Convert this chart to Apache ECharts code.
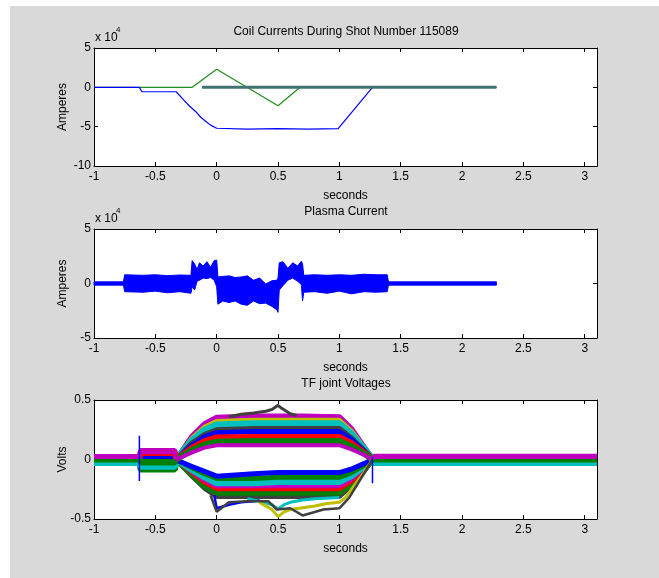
<!DOCTYPE html>
<html>
<head>
<meta charset="utf-8">
<script src="https://cdn.jsdelivr.net/npm/echarts/dist/echarts.min.js"></script>
<style>
  html, body { margin: 0; padding: 0; background: #ffffff; }
  #chart { width: 659px; height: 578px; }
</style>
</head>
<body>
<div id="chart"></div>
<script>
// ---- coil currents (x 10^4 A) ----
const coilGreenT = [-1, -0.2, 0, 0.5, 0.68, 2.28];
const coilGreenV = [0, 0, 2.3, -2.35, 0, 0];
const coilBlueT = [-1, -0.63, -0.61, -0.33, -0.27, -0.22, -0.17, -0.13, -0.09, -0.05, 0, 0.25, 0.5, 0.75, 0.99, 1.27, 2.28];
const coilBlueV = [0, 0, -0.56, -0.56, -1.6, -2.4, -3.1, -3.8, -4.3, -4.8, -5.2, -5.3, -5.25, -5.3, -5.25, 0, 0];
const coilTealT = [-0.12, 2.28];
const coilTealV = [0, 0];

// ---- plasma current envelope (x 10^4 A) ----
const plasmaT = [-1, -0.76, -0.75, -0.6, -0.5, -0.4, -0.3, -0.21, -0.2, -0.18, -0.16, -0.14, -0.11, -0.08, -0.05, -0.02, 0.0,
  0.01, 0.05, 0.1, 0.15, 0.2, 0.25, 0.3, 0.35, 0.4, 0.45, 0.49, 0.5,
  0.51, 0.54, 0.58, 0.62, 0.66, 0.69, 0.7, 0.71, 0.8, 0.9, 1.0, 1.1, 1.2, 1.3, 1.39, 1.4, 2.28];
const plasmaUpper = [0.15, 0.15, 0.8, 0.75, 0.8, 0.72, 0.78, 0.75, 2.1, 1.8, 1.3, 1.9, 1.6, 2.0, 1.5, 2.1, 2.15,
  0.6, 0.65, 0.7, 0.55, 0.6, 0.7, 0.3, 0.5, -0.05, 0.25, 0.3, 0.5,
  1.9, 2.0, 1.4, 1.9, 1.6, 2.05, 1.8, 0.75, 0.8, 0.75, 0.8, 0.75, 0.85, 0.8, 0.8, 0.15, 0.15];
const plasmaLower = [-0.15, -0.15, -0.75, -0.8, -0.7, -0.85, -0.75, -0.9, -0.3, -0.6, 0.2, 0.3, 0.5, 0.45, 0.55, 0.3, -0.3,
  -1.9, -1.6, -1.75, -1.6, -1.9, -2.0, -1.6, -1.85, -1.8, -2.1, -2.4, -2.65,
  -0.6, -0.2, 0.3, 0.5, 0.2, -0.1, -1.6, -0.8, -0.75, -0.9, -0.7, -0.95, -0.75, -0.8, -0.75, -0.15, -0.15];

// ---- TF joint voltages (V) ----
const tfT = [-1, -0.63, -0.62, -0.34, -0.33, -0.2, -0.1, 0, 0.3, 0.5, 0.7, 1.0, 1.1, 1.2, 1.27, 1.28, 3.1];
const tfMagentaHi = [0.025, 0.025, 0.075, 0.075, 0.0, 0.2, 0.3, 0.355, 0.365, 0.365, 0.365, 0.36, 0.26, 0.11, 0.01, 0.028, 0.028];
const tfYellowHi = [0.015, 0.015, 0.05, 0.05, 0.0, 0.18, 0.27, 0.32, 0.33, 0.33, 0.33, 0.33, 0.235, 0.1, 0.01, 0.015, 0.015];
const tfCyanHi = [-0.025, -0.025, 0.04, 0.04, 0.0, 0.16, 0.245, 0.29, 0.3, 0.3, 0.3, 0.3, 0.21, 0.09, 0.005, -0.025, -0.025];
const tfGrayHi = [0.0, 0.0, 0.02, 0.02, 0.0, 0.14, 0.21, 0.25, 0.26, 0.26, 0.26, 0.26, 0.18, 0.08, 0.005, 0.0, 0.0];
const tfBlueHi = [0.005, 0.005, 0.02, 0.02, 0.0, 0.12, 0.19, 0.225, 0.235, 0.235, 0.235, 0.235, 0.165, 0.07, 0.005, 0.005, 0.005];
const tfRedHi = [0.01, 0.01, 0.055, 0.055, 0.0, 0.1, 0.155, 0.185, 0.19, 0.19, 0.19, 0.19, 0.135, 0.06, 0.005, 0.01, 0.01];
const tfGreenHi = [0.0, 0.0, -0.02, -0.02, 0.0, 0.08, 0.125, 0.15, 0.155, 0.155, 0.155, 0.155, 0.11, 0.05, 0.0, 0.0, 0.0];
const tfMagentaMid = [0.02, 0.02, 0.06, 0.06, 0.0, 0.06, 0.1, 0.12, 0.12, 0.12, 0.12, 0.12, 0.085, 0.04, 0.0, 0.02, 0.02];
const tfBlueLo = [0.005, 0.005, 0.0, 0.0, 0.0, -0.06, -0.1, -0.14, -0.12, -0.11, -0.11, -0.11, -0.08, -0.035, 0.0, 0.005, 0.005];
const tfGreenLo = [-0.01, -0.01, -0.03, -0.03, 0.0, -0.07, -0.12, -0.16, -0.16, -0.15, -0.15, -0.15, -0.11, -0.05, 0.0, -0.01, -0.01];
const tfCyanLo = [-0.025, -0.025, -0.06, -0.06, 0.0, -0.09, -0.15, -0.2, -0.2, -0.19, -0.19, -0.19, -0.14, -0.06, 0.0, -0.025, -0.025];
const tfMagentaLo = [0.02, 0.02, -0.04, -0.04, 0.0, -0.1, -0.17, -0.22, -0.22, -0.22, -0.22, -0.22, -0.16, -0.07, 0.0, 0.02, 0.02];
const tfRedLo = [0.01, 0.01, -0.02, -0.02, 0.0, -0.11, -0.19, -0.245, -0.245, -0.245, -0.245, -0.245, -0.18, -0.08, 0.0, 0.01, 0.01];
const tfGreenLo2 = [-0.01, -0.01, -0.085, -0.085, 0.0, -0.13, -0.22, -0.28, -0.28, -0.28, -0.28, -0.28, -0.2, -0.09, 0.0, -0.01, -0.01];
const tfGrayLo = [0.0, 0.0, -0.03, -0.03, 0.0, -0.14, -0.24, -0.31, -0.31, -0.31, -0.31, -0.31, -0.22, -0.1, 0.0, 0.0, 0.0];

// odd channels
const grayPeakT = [0.1, 0.2, 0.3, 0.4, 0.45, 0.5, 0.53, 0.6, 0.65];
const grayPeakV = [0.36, 0.38, 0.39, 0.405, 0.42, 0.455, 0.43, 0.385, 0.37];
const cyanDipT = [0.25, 0.35, 0.45, 0.5, 0.55, 0.6, 0.7, 0.8, 1.0];
const cyanDipV = [-0.33, -0.35, -0.38, -0.415, -0.38, -0.36, -0.34, -0.33, -0.32];
const yellowDipT = [0.35, 0.45, 0.5, 0.55, 0.6, 0.7, 0.8, 0.9, 1.0, 1.05, 1.1, 1.2, 1.27];
const yellowDipV = [-0.36, -0.42, -0.48, -0.44, -0.42, -0.405, -0.39, -0.37, -0.36, -0.32, -0.25, -0.11, 0];
const grayDipT = [-0.05, 0, 0.1, 0.25, 0.42, 0.49, 0.6, 0.7, 0.87, 1.0, 1.08, 1.2, 1.27];
const grayDipV = [-0.3, -0.44, -0.36, -0.35, -0.35, -0.42, -0.41, -0.47, -0.42, -0.41, -0.32, -0.12, 0];
const blueDipT = [-0.02, 0.0, 0.1, 0.2, 0.3, 0.35];
const blueDipV = [-0.3, -0.41, -0.38, -0.36, -0.35, -0.34];
const spikeAT = [-0.63, -0.63];
const spikeAV = [0.2, -0.18];
const spikeBT = [1.27, 1.27];
const spikeBV = [0.02, -0.2];

const FONT = 'Liberation Sans';
const pair = (t, v) => t.map((x, i) => [x, v[i]]);

const chart = echarts.init(document.getElementById('chart'));

const grids = [
  { left: 94, top: 48, width: 503, height: 118 },
  { left: 94, top: 229, width: 503, height: 109 },
  { left: 94, top: 400, width: 503, height: 119 }
];
const yRanges = [
  { min: -10, max: 5, interval: 5, name: 'Amperes' },
  { min: -5, max: 5, interval: 5, name: 'Amperes' },
  { min: -0.5, max: 0.5, interval: 0.5, name: 'Volts' }
];

const axisLine = { show: true, onZero: false, lineStyle: { color: '#000', width: 1 } };
const axisTick = { show: true, inside: true, length: 4, lineStyle: { color: '#000' } };
const labelStyle = { color: '#000', fontSize: 12, fontFamily: FONT };

const xAxes = [];
const yAxes = [];
grids.forEach((g, i) => {
  xAxes.push({
    type: 'value', gridIndex: i, position: 'bottom', min: -1, max: 3.1, interval: 0.5,
    axisLine, axisTick, splitLine: { show: false },
    axisLabel: Object.assign({ margin: 5, showMaxLabel: false }, labelStyle),
    name: 'seconds', nameLocation: 'middle', nameGap: 24,
    nameTextStyle: labelStyle
  });
  xAxes.push({
    type: 'value', gridIndex: i, position: 'top', min: -1, max: 3.1, interval: 0.5,
    axisLine, axisTick, splitLine: { show: false }, axisLabel: { show: false }
  });
  const r = yRanges[i];
  yAxes.push({
    type: 'value', gridIndex: i, position: 'left', min: r.min, max: r.max, interval: r.interval,
    axisLine, axisTick, splitLine: { show: false },
    axisLabel: Object.assign({ margin: 3 }, labelStyle),
    name: r.name, nameLocation: 'middle', nameGap: 25, nameMoveOverlap: false,
    nameTextStyle: labelStyle
  });
  yAxes.push({
    type: 'value', gridIndex: i, position: 'right', min: r.min, max: r.max, interval: r.interval,
    axisLine, axisTick, splitLine: { show: false }, axisLabel: { show: false }
  });
});

function lineSeries(grid, data, color, width) {
  return {
    type: 'line', xAxisIndex: grid * 2, yAxisIndex: grid * 2, data,
    showSymbol: false, symbol: 'none', smooth: false, silent: true,
    lineStyle: { color, width }
  };
}

const MAG = '#bf00bf', YEL = '#bfbf00', CYA = '#00bfbf', GRY = '#404040',
      BLU = '#0000ff', RED = '#ff0000', GRN = '#008000';

const series = [
  lineSeries(0, pair(coilGreenT, coilGreenV), '#1e8c1e', 1.2),
  lineSeries(0, pair(coilBlueT, coilBlueV), BLU, 1.2),
  lineSeries(0, pair(coilTealT, coilTealV), '#3f7370', 3),
  {
    type: 'custom', xAxisIndex: 2, yAxisIndex: 2, silent: true,
    data: plasmaT.map((t, i) => [t, plasmaUpper[i], plasmaLower[i]]),
    encode: { x: 0, y: [1, 2] },
    renderItem: function (params, api) {
      if (params.dataIndex !== 0) return;
      const pts = [];
      plasmaT.forEach((t, i) => pts.push(api.coord([t, plasmaUpper[i]])));
      for (let i = plasmaT.length - 1; i >= 0; i--) pts.push(api.coord([plasmaT[i], plasmaLower[i]]));
      return { type: 'polygon', shape: { points: pts }, style: { fill: BLU, stroke: BLU, lineWidth: 1 } };
    }
  },
  // TF joints: back to front
  lineSeries(2, pair(tfT, tfGrayLo), GRY, 5),
  lineSeries(2, pair(tfT, tfGreenLo2), GRN, 6),
  lineSeries(2, pair(tfT, tfRedLo), RED, 5),
  lineSeries(2, pair(tfT, tfMagentaLo), MAG, 5),
  lineSeries(2, pair(tfT, tfCyanLo), CYA, 6),
  lineSeries(2, pair(tfT, tfGreenLo), GRN, 5),
  lineSeries(2, pair(tfT, tfBlueLo), BLU, 5),
  lineSeries(2, pair(tfT, tfMagentaHi), MAG, 5),
  lineSeries(2, pair(tfT, tfYellowHi), YEL, 5),
  lineSeries(2, pair(tfT, tfCyanHi), CYA, 7),
  lineSeries(2, pair(tfT, tfGrayHi), GRY, 5),
  lineSeries(2, pair(tfT, tfBlueHi), BLU, 5),
  lineSeries(2, pair(tfT, tfRedHi), RED, 6),
  lineSeries(2, pair(tfT, tfGreenHi), GRN, 6),
  lineSeries(2, pair(tfT, tfMagentaMid), MAG, 4),
  lineSeries(2, pair(grayPeakT, grayPeakV), GRY, 3),
  lineSeries(2, pair(blueDipT, blueDipV), BLU, 2.5),
  lineSeries(2, pair(cyanDipT, cyanDipV), CYA, 3),
  lineSeries(2, pair(yellowDipT, yellowDipV), YEL, 3),
  lineSeries(2, pair(grayDipT, grayDipV), GRY, 2.5),
  lineSeries(2, pair(spikeAT, spikeAV), BLU, 1.5),
  lineSeries(2, pair(spikeBT, spikeBV), BLU, 1.5)
];

const titleStyle = { color: '#000', fontSize: 12, fontWeight: 'normal', fontFamily: FONT };

chart.setOption({
  animation: false,
  backgroundColor: '#ffffff',
  title: [
    { text: 'Coil Currents During Shot Number 115089', left: 346, top: 26, textAlign: 'center', padding: 0, textStyle: titleStyle },
    { text: 'Plasma Current', left: 346, top: 206, textAlign: 'center', padding: 0, textStyle: titleStyle },
    { text: 'TF joint Voltages', left: 346, top: 378, textAlign: 'center', padding: 0, textStyle: titleStyle }
  ],
  graphic: [
    { type: 'rect', z: -100, shape: { x: 10, y: 6, width: 649, height: 572 }, style: { fill: '#d9d9d9' } },
    { type: 'text', x: 95, y: 38, style: { text: 'x 10', fontSize: 12, fontFamily: FONT, fill: '#000', verticalAlign: 'middle' } },
    { type: 'text', x: 116, y: 30, style: { text: '4', fontSize: 8, fontFamily: FONT, fill: '#000', verticalAlign: 'middle' } },
    { type: 'text', x: 95, y: 219, style: { text: 'x 10', fontSize: 12, fontFamily: FONT, fill: '#000', verticalAlign: 'middle' } },
    { type: 'text', x: 116, y: 211, style: { text: '4', fontSize: 8, fontFamily: FONT, fill: '#000', verticalAlign: 'middle' } }
  ],
  grid: grids.map(g => Object.assign({ show: true, backgroundColor: '#ffffff', borderWidth: 0, containLabel: false }, g)),
  xAxis: xAxes,
  yAxis: yAxes,
  series
});
</script>
</body>
</html>
